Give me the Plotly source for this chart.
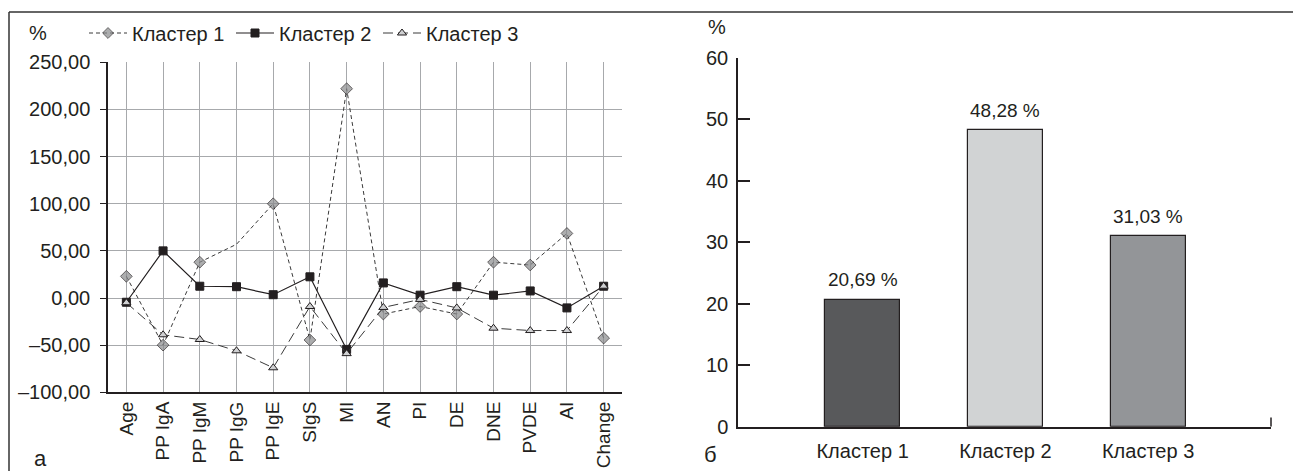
import plotly.graph_objects as go

# Indicators (left panel, categorical x axis)
indicators = ["Age", "PP IgA", "PP IgM", "PP IgG", "PP IgE", "SIgS", "MI",
              "AN", "PI", "DE", "DNE", "PVDE", "AI", "Change"]

# Deviation from the overall mean, % (one list per cluster)
cluster1 = [23, -50, 38, 57, 100, -44.5, 222, -17, -9, -17, 38, 35, 68.5, -42.5]
cluster2 = [-4.5, 50, 12.5, 12, 3.5, 22.5, -54.5, 16, 3, 12, 3, 7.5, -10.5, 12.5]
cluster3 = [-5, -39, -44, -56, -74, -9, -59, -10, -1.5, -10.5, -32, -34.5, -34.5, 12.5]

# Share of patients in each cluster, % (right panel)
cluster_names = ["Кластер 1", "Кластер 2", "Кластер 3"]
cluster_share = [20.69, 48.28, 31.03]

W, H = 1293, 471
INK = "#231f20"
GRID = "#a7a9ac"
FONT = "Liberation Sans, Arial, sans-serif"


def px_x(p):
    return p / W


def px_y(p):
    return 1 - p / H


fig = go.Figure()

# the PP IgG point of cluster 1 is plotted on the line without a marker
c1_sizes = [0 if name == "PP IgG" else 9 for name in indicators]
c1_lw = [0 if name == "PP IgG" else 1 for name in indicators]

fig.add_trace(go.Scatter(
    x=indicators, y=cluster1, name="Кластер 1", mode="lines+markers",
    line=dict(color="#3a3a3a", width=1, dash="4px,3px"),
    marker=dict(symbol="diamond", size=c1_sizes, color="#8a8b8d",
                line=dict(color=INK, width=c1_lw)),
    xaxis="x", yaxis="y", cliponaxis=False,
))
fig.add_trace(go.Scatter(
    x=indicators, y=cluster2, name="Кластер 2", mode="lines+markers",
    line=dict(color=INK, width=1.2),
    marker=dict(symbol="square", size=8, color=INK, line=dict(color=INK, width=1)),
    xaxis="x", yaxis="y", cliponaxis=False,
))
fig.add_trace(go.Scatter(
    x=indicators, y=cluster3, name="Кластер 3", mode="lines+markers",
    line=dict(color="#3a3a3a", width=1, dash="10px,5px"),
    marker=dict(symbol="triangle-up", size=8, color="#cfd0d2",
                line=dict(color=INK, width=1)),
    xaxis="x", yaxis="y", cliponaxis=False,
))

bar_colors = ["#58595b", "#d1d3d4", "#939598"]
fig.add_trace(go.Bar(
    x=cluster_names, y=cluster_share, width=0.525,
    marker=dict(color=bar_colors, line=dict(color=INK, width=1.2)),
    xaxis="x2", yaxis="y2", showlegend=False,
))

# value labels above bars
for name, val in zip(cluster_names, cluster_share):
    fig.add_annotation(
        x=name, y=val, xref="x2", yref="y2", yshift=20, showarrow=False,
        xanchor="center", yanchor="middle",
        text=f"{val:.2f}".replace(".", ",") + " %",
        font=dict(size=19, color=INK, family=FONT),
    )

left_ticks = list(range(-100, 251, 50))

fig.update_layout(
    template="none",
    width=W, height=H,
    margin=dict(l=0, r=0, t=0, b=0, autoexpand=False),
    paper_bgcolor="white", plot_bgcolor="white",
    font=dict(family=FONT, size=20, color=INK),
    separators=", ",
    showlegend=True,
    xaxis=dict(
        domain=[px_x(108), px_x(622)], range=[-0.5, 13.5],
        showgrid=True, gridcolor=GRID, gridwidth=1.2,
        showline=True, linecolor=INK, linewidth=1.5, zeroline=False,
        ticks="", tickangle=-90, tickfont=dict(size=19),
        anchor="y", automargin=False,
    ),
    yaxis=dict(
        domain=[px_y(392.3), px_y(62.3)], range=[-100, 250],
        tickvals=left_ticks,
        ticktext=[f"{v:.2f}".replace(".", ",").replace("-", "–") for v in left_ticks],
        showgrid=True, gridcolor=GRID, gridwidth=1.2, zeroline=False,
        showline=True, linecolor=INK, linewidth=1.5,
        ticks="outside", ticklen=6, tickcolor=INK, tickfont=dict(size=20),
        ticklabelstandoff=6, anchor="x", automargin=False,
    ),
    xaxis2=dict(
        domain=[px_x(738), px_x(1271)], range=[-0.873, 2.861],
        showgrid=False, showline=True, linecolor=INK, linewidth=1.5,
        zeroline=False, ticks="", tickfont=dict(size=20),
        ticklabelstandoff=6, anchor="y2", automargin=False,
    ),
    yaxis2=dict(
        domain=[px_y(426.7), px_y(58)], range=[0, 60],
        tickvals=list(range(0, 61, 10)),
        showgrid=False, zeroline=False,
        showline=True, linecolor=INK, linewidth=1.5,
        ticks="inside", ticklen=12, tickcolor=INK, tickwidth=1.5,
        tickfont=dict(size=20), ticklabelstandoff=4,
        anchor="x2", automargin=False,
    ),
    legend=dict(
        orientation="h", x=px_x(84), y=px_y(33), xanchor="left", yanchor="middle",
        font=dict(size=20), bgcolor="rgba(0,0,0,0)",
        itemwidth=38, entrywidth=94, entrywidthmode="pixels",
        tracegroupgap=0,
    ),
    bargap=0,
)

# panel letters and unit labels
for txt, x, y, size in [("%", 38, 33, 20), ("а", 40, 458, 22),
                         ("%", 717, 27, 20), ("б", 710, 454, 22)]:
    fig.add_annotation(x=px_x(x), y=px_y(y), xref="paper", yref="paper",
                       xanchor="center", yanchor="middle",
                       text=txt, showarrow=False,
                       font=dict(size=size, family=FONT, color=INK))

# frame around the figure: top rule and left rule
fig.add_shape(type="line", xref="paper", yref="paper",
              x0=px_x(9), x1=1, y0=px_y(12), y1=px_y(12),
              line=dict(color="#333333", width=1.5))
fig.add_shape(type="line", xref="paper", yref="paper",
              x0=px_x(9), x1=px_x(9), y0=0, y1=px_y(12),
              line=dict(color="#333333", width=1.5))
# closing tick at the right end of the bar chart axis
fig.add_shape(type="line", xref="x2 domain", yref="y2",
              x0=1, x1=1, y0=0, y1=1.5,
              line=dict(color=INK, width=1.5))

fig.write_html("out.html")
